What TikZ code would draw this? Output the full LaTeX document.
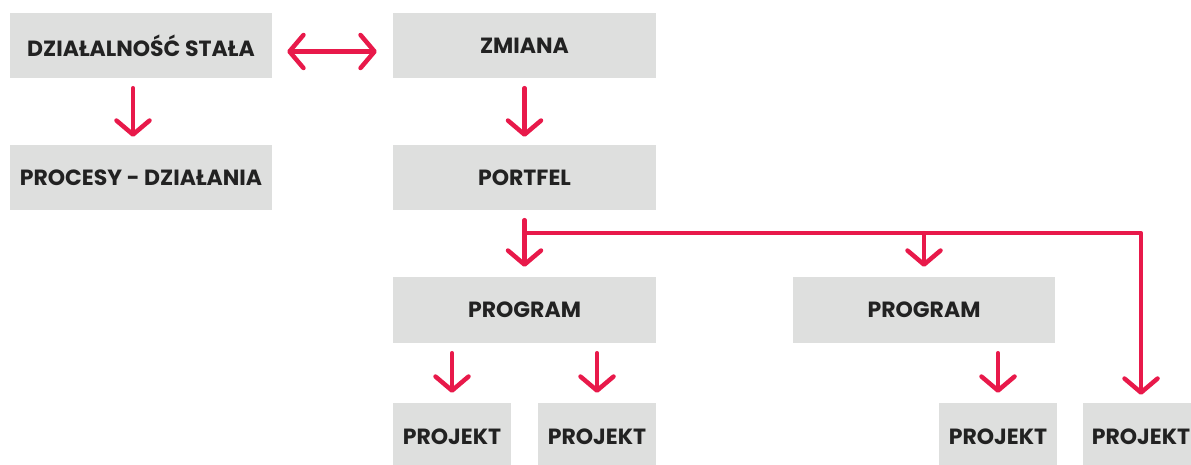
\documentclass[tikz,border=0pt]{standalone}
\usepackage{fontspec}
\setmainfont{Poppins}
\usetikzlibrary{arrows.meta}
\definecolor{boxgray}{HTML}{DEDFDE}
\definecolor{arrred}{HTML}{E8194A}
\definecolor{txt}{HTML}{222222}
\tikzset{
  box/.style={fill=boxgray, draw=none, inner sep=0pt, text=txt,
    font=\fontsize{22}{26}\selectfont\bfseries},
  arr/.style={draw=arrred, line width=4.5pt, line cap=round, line join=round,
    -{Straight Barb[length=14pt, width=33pt, line cap=round, line join=round]}},
  darr/.style={draw=arrred, line width=4.5pt, line cap=round,
    {Straight Barb[length=14pt, width=33pt, line cap=round, line join=round]}-{Straight Barb[length=14pt, width=33pt, line cap=round, line join=round]}},
}
\begin{document}
\begin{tikzpicture}[x=1pt,y=-1pt]
\useasboundingbox (0,0) rectangle (1191,464);
% boxes
\node[box, minimum width=262pt, minimum height=65pt] (ds) at (141,45.5) {DZIAŁALNOŚĆ STAŁA};
\node[box, minimum width=263pt, minimum height=65pt] (zm) at (524.5,45.5) {ZMIANA};
\node[box, minimum width=262pt, minimum height=65pt] (proc) at (141,177.5) {PROCESY - DZIAŁANIA};
\node[box, minimum width=263pt, minimum height=65pt] (port) at (524.5,177.5) {PORTFEL};
\node[box, minimum width=263pt, minimum height=66pt] (prog1) at (524.5,310) {PROGRAM};
\node[box, minimum width=262pt, minimum height=66pt] (prog2) at (924,310) {PROGRAM};
\node[box, minimum width=118pt, minimum height=67pt] (pj1) at (452,436.5) {PROJEKT};
\node[box, minimum width=118pt, minimum height=67pt] (pj2) at (597,436.5) {PROJEKT};
\node[box, minimum width=118pt, minimum height=67pt] (pj3) at (998,436.5) {PROJEKT};
\node[box, minimum width=116pt, minimum height=67pt] (pj4) at (1141,436.5) {PROJEKT};
% connectors
\draw[darr, shorten <=15pt, shorten >=16pt] ([yshift=-6pt]ds.east) -- ([yshift=-6pt]zm.west);
\draw[arr, shorten <=10pt, shorten >=8pt] ([xshift=-8pt]ds.south) -- ([xshift=-8pt]proc.north);
\draw[arr, shorten <=10pt, shorten >=8pt] (zm.south) -- (port.north);
\coordinate (br) at ([yshift=-23pt]port.south);
\draw[arr, shorten <=10pt, shorten >=10pt] (port.south) -- (prog1.north);
\draw[arr, shorten >=8pt] (br) -| (pj4.north);
\draw[arr, shorten >=10pt] (br -| prog2.north) -- (prog2.north);
\draw[arr, shorten <=10pt, shorten >=10pt] (prog1.south -| pj1.north) -- (pj1.north);
\draw[arr, shorten <=10pt, shorten >=10pt] (prog1.south -| pj2.north) -- (pj2.north);
\draw[arr, shorten <=10pt, shorten >=10pt] (prog2.south -| pj3.north) -- (pj3.north);
\end{tikzpicture}
\end{document}
